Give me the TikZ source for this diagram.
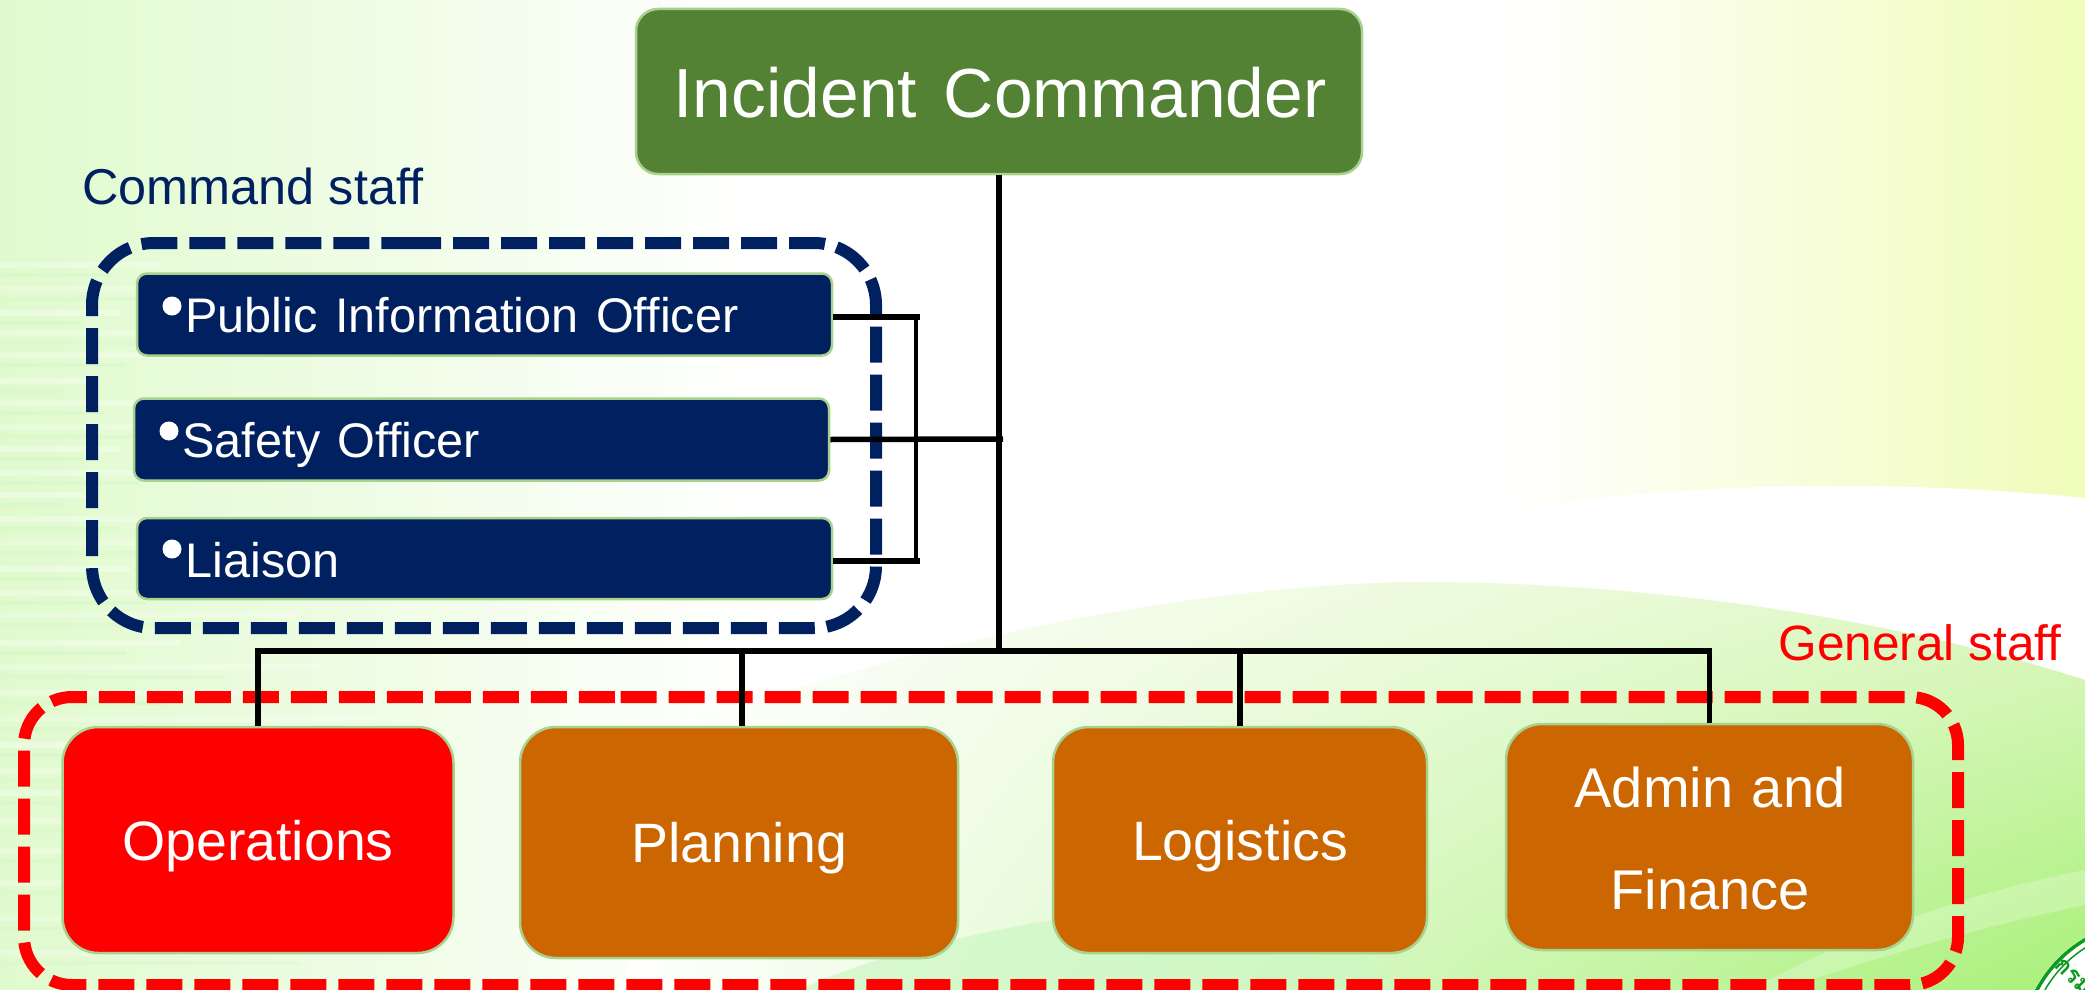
\documentclass[tikz,border=0pt]{standalone}
\usepackage{fontspec}
\setmainfont{Liberation Sans}
\newfontfamily\thaifont[Script=Thai]{Loma}
\usetikzlibrary{shadings}
\definecolor{navyb}{HTML}{002060}
\definecolor{oliveb}{HTML}{548235}
\definecolor{orangeb}{HTML}{CC6600}
\definecolor{edgeb}{HTML}{A9D18E}
\definecolor{logog}{HTML}{0B9A1E}
\definecolor{bgleft}{RGB}{224,250,205}
\definecolor{bgright}{RGB}{240,252,185}
\definecolor{bgmid}{RGB}{226,248,200}
\definecolor{bglow}{RGB}{168,240,120}
\definecolor{bgsoft}{RGB}{205,247,195}
\tikzset{
  box/.style={draw=edgeb,line width=2.5pt,text=white,inner sep=0pt},
  groupline/.style={line width=12pt,dash pattern=on 36pt off 12pt},
  conn/.style={draw=black,line width=5.5pt},
  connthin/.style={draw=black,line width=4.5pt},
  boxtext/.style={text=white,font=\fontsize{55.5}{55.5}\selectfont},
}
\newcommand{\spread}[2]{\spaceskip=#1\fontdimen2\font\relax #2}
\begin{document}
\begin{tikzpicture}[x=1pt,y=-1pt]
\useasboundingbox (0,0) rectangle (2085,990);
% background
\fill[white] (0,0) rectangle (2085,990);
\shade[left color=bgleft,right color=white] (0,0) rectangle (760,990);
\shade[left color=white,right color=bgright] (1500,0) rectangle (2085,560);
% lower green area
\fill[white] (1300,560) .. controls (1500,490) and (1800,470) .. (2085,498) -- (2085,700) -- (1300,700) -- cycle;
\begin{scope}
\clip (700,720) .. controls (900,650) and (1150,590) .. (1400,582) .. controls (1650,580) and (1900,620) .. (2085,680) -- (2085,990) -- (620,990) -- cycle;
\shade[lower left=white,upper left=white,upper right=bgmid,lower right=bglow] (620,570) rectangle (2085,990);
\fill[white,opacity=.25] (1780,990) .. controls (1900,950) and (1990,925) .. (2085,905) -- (2085,870) .. controls (1980,890) and (1860,930) .. (1750,990) -- cycle;
\fill[bgsoft,opacity=.7] (800,990) .. controls (880,950) and (1050,910) .. (1300,890) -- (1400,990) -- cycle;
\end{scope}
% stripes
\foreach \yy/\ll/\oo in {262/160/.3,286/230/.25,310/120/.35,330/260/.25,352/180/.3,378/90/.35,400/150/.3,424/240/.25,446/120/.35,470/200/.3,492/90/.35,516/170/.3,540/260/.25,566/130/.35,590/210/.3,612/300/.25,640/180/.35,664/320/.25,690/240/.3,716/380/.25,742/200/.35,768/330/.25,790/150/.3,818/420/.25,848/260/.3,880/380/.25,915/300/.25,950/430/.25}{
  \fill[white,opacity=\oo] (0,\yy) rectangle (\ll,\yy+6);
  \fill[bgsoft,opacity=\oo] (0,\yy+11) rectangle (\ll*.7,\yy+15);
}
% logo
\begin{scope}
\clip (0,0) rectangle (2085,990);
\fill[white] (2150,1050) circle (130);
\draw[logog,line width=3.5pt] (2150,1050) circle (128);
\draw[logog,line width=1.5pt] (2150,1050) circle (121);
\node[rotate=-45,text=logog,font=\thaifont\bfseries] (logotext) at (2073,977) {\fontsize{24}{24}\selectfont กรม};
\end{scope}
% group frames
\draw[navyb,groupline,rounded corners=62pt] (343,243) -- (876,243) -- (876,628) -- (92,628) -- (92,243) -- cycle;
\draw[red,groupline,rounded corners=48pt] (572.5,697) -- (1958,697) -- (1958,985) -- (24,985) -- (24,697) -- cycle;
% nodes
\node[box,fill=oliveb,rounded corners=22pt,minimum width=726pt,minimum height=165pt] (ic) at (999,91.5) {};
\node[text=white,font=\fontsize{69.5}{69.5}\selectfont] (ict) at (1000,93) {\spread{1.4}{Incident Commander}};
\node[box,fill=navyb,rounded corners=10pt,minimum width=695pt,minimum height=82pt] (pio) at (484.5,314.5) {};
\node[box,fill=navyb,rounded corners=10pt,minimum width=695pt,minimum height=82pt] (so) at (481.5,439.5) {};
\node[box,fill=navyb,rounded corners=10pt,minimum width=695pt,minimum height=81pt] (li) at (484.5,558.5) {};
\node[box,fill=red,rounded corners=36pt,minimum width=391pt,minimum height=226pt] (ops) at (258,840) {};
\node[box,fill=orangeb,rounded corners=36pt,minimum width=438pt,minimum height=231pt] (pl) at (739,842.5) {};
\node[box,fill=orangeb,rounded corners=36pt,minimum width=374pt,minimum height=226pt] (lo) at (1240,840) {};
\node[box,fill=orangeb,rounded corners=36pt,minimum width=407pt,minimum height=226pt] (ad) at (1709.5,837) {};
% texts
\foreach \nm/\xx/\yy/\lbl in {t1/182/317/Public Information Officer,t2/179/442/Safety Officer,t3/182/562/Liaison}{
  \node[anchor=base west,text=white,font=\fontsize{48.6}{48.6}\selectfont] (\nm) at (\xx,\yy+15) {\spread{1.3}{\lbl}};
}
\foreach \xx/\yy in {172/306,169/431,172/549}{
  \fill[white] (\xx,\yy) circle (9.5);
}
\node[boxtext] (opst) at (258,846) {Operations};
\node[boxtext] (plt) at (739,848) {Planning};
\node[boxtext] (lot) at (1240,846) {Logistics};
\node[boxtext,font=\fontsize{56}{56}\selectfont] (ad1) at (1710,787) {\spread{1.2}{Admin and}};
\node[boxtext,font=\fontsize{56}{56}\selectfont] (ad2) at (1710,889) {Finance};
\node[text=navyb,anchor=base west,font=\fontsize{50.4}{50.4}\selectfont] (cs) at (79,204) {Command staff};
\node[text=red,anchor=base west,font=\fontsize{49.6}{49.6}\selectfont] (gs) at (1775,660) {General staff};
% connectors
\coordinate (hubr) at (1003,439);
\coordinate (brk) at (920,317);
\coordinate (brk2) at (920,561);
\coordinate (bus) at (999,651);
\draw[conn] (ic.south -| bus) -- (bus);
\draw[conn] (pio.east |- brk) -- (brk);
\draw[conn] (li.east |- brk2) -- (brk2);
\draw[connthin] (916,317) -- (916,561);
\draw[conn] (so.east) -- (hubr);
\draw[conn] (ops.north) -- (ops.north |- bus) -- (ad.north |- bus) -- (ad.north);
\draw[conn] (pl.north -| 742,0) -- (742,651);
\draw[conn] (lo.north) -- (lo.north |- bus);
\end{tikzpicture}
\end{document}
